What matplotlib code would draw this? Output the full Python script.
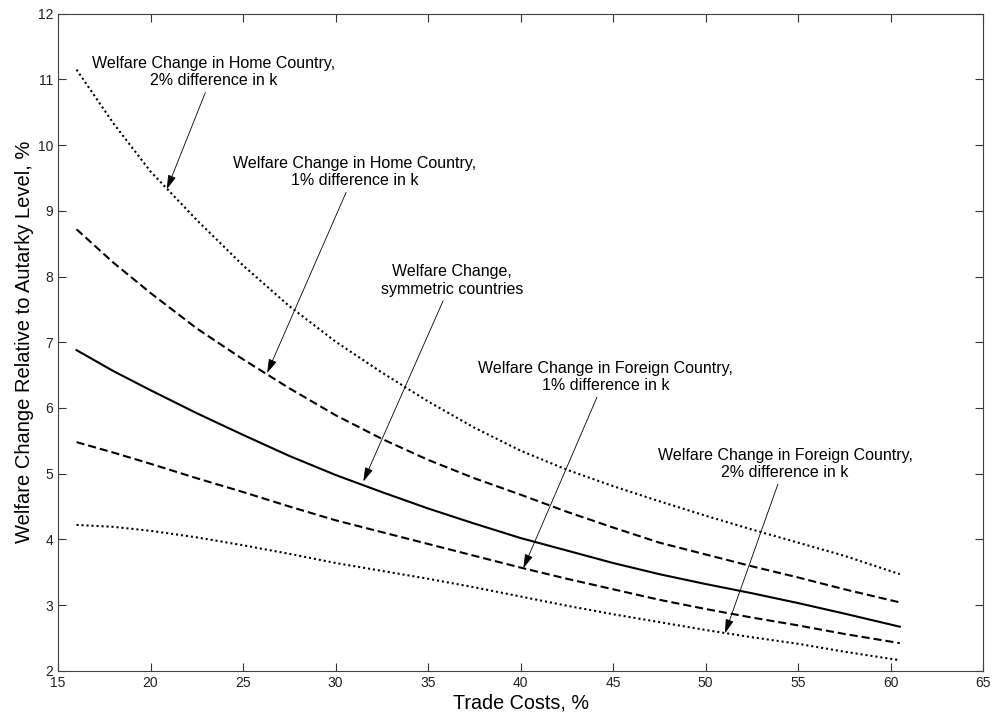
import numpy as np
import matplotlib
matplotlib.use("Agg")
import matplotlib.pyplot as plt

plt.rcParams['font.family'] = ['Liberation Sans', 'DejaVu Sans']

# trade costs, %
trade_costs = [16, 18, 20, 22.5, 25, 27.5, 30, 32.5, 35, 37.5, 40,
               42.5, 45, 47.5, 50, 52.5, 55, 57.5, 60.5]

# welfare change relative to autarky level, %
home_2pct = [11.15, 10.33, 9.60, 8.86, 8.17, 7.55, 7.01, 6.54, 6.10, 5.70, 5.35,
             5.06, 4.81, 4.58, 4.36, 4.15, 3.95, 3.75, 3.47]
home_1pct = [8.72, 8.21, 7.75, 7.21, 6.74, 6.30, 5.89, 5.53, 5.21, 4.93, 4.68,
             4.42, 4.18, 3.95, 3.77, 3.59, 3.42, 3.24, 3.04]
symmetric = [6.88, 6.56, 6.27, 5.92, 5.59, 5.27, 4.98, 4.72, 4.47, 4.24, 4.02,
             3.83, 3.64, 3.47, 3.32, 3.18, 3.03, 2.87, 2.67]
foreign_1pct = [5.48, 5.32, 5.15, 4.93, 4.72, 4.50, 4.29, 4.11, 3.93, 3.75, 3.57,
                3.40, 3.24, 3.08, 2.94, 2.81, 2.69, 2.56, 2.42]
foreign_2pct = [4.22, 4.19, 4.13, 4.03, 3.91, 3.78, 3.64, 3.52, 3.40, 3.27, 3.13,
                2.99, 2.86, 2.74, 2.62, 2.51, 2.41, 2.29, 2.16]

# annotations: text, text position, arrow tip
labels = [
    ("Welfare Change in Home Country,\n2% difference in k", (23.4, 11.11), (20.88, 9.33)),
    ("Welfare Change in Home Country,\n1% difference in k", (31.05, 9.59), (26.3, 6.53)),
    ("Welfare Change,\nsymmetric countries", (36.3, 7.94), (31.5, 4.88)),
    ("Welfare Change in Foreign Country,\n1% difference in k", (44.6, 6.47), (40.15, 3.56)),
    ("Welfare Change in Foreign Country,\n2% difference in k", (54.3, 5.15), (51.05, 2.57)),
]

dotted = (0, (1, 1.4))
dashed = (0, (3.9, 1.9))

fig = plt.figure(figsize=(9.92, 7.14), dpi=100)
ax = fig.add_axes([0.0585, 0.0606, 0.9325, 0.9201])

ax.plot(trade_costs, home_2pct, color='k', lw=1.5, ls=dotted)
ax.plot(trade_costs, home_1pct, color='k', lw=1.5, ls=dashed)
ax.plot(trade_costs, symmetric, color='k', lw=1.5, ls='-')
ax.plot(trade_costs, foreign_1pct, color='k', lw=1.5, ls=dashed)
ax.plot(trade_costs, foreign_2pct, color='k', lw=1.5, ls=dotted)

for text, xytext, xy in labels:
    ax.annotate(text, xy=xy, xytext=xytext, ha='center', va='center',
                fontsize=11.5, linespacing=1.2,
                arrowprops=dict(arrowstyle='-|>,head_length=0.75,head_width=0.22',
                                color='k', lw=0.6, shrinkA=1, shrinkB=0))

ax.set_xlim(15, 65)
ax.set_ylim(2, 12)
ax.set_xticks(np.arange(15, 66, 5))
ax.set_yticks(np.arange(2, 13, 1))
ax.tick_params(direction='in', top=True, right=True, length=6, width=0.8,
               labelsize=10, colors='#333333', labelcolor='#202020')
for s in ax.spines.values():
    s.set_color('#404040')
    s.set_linewidth(0.8)

ax.set_xlabel("Trade Costs, %", fontsize=14.2, labelpad=3)
ax.set_ylabel("Welfare Change Relative to Autarky Level, %", fontsize=14.5, labelpad=3)

fig.savefig("out.png", dpi=100)
